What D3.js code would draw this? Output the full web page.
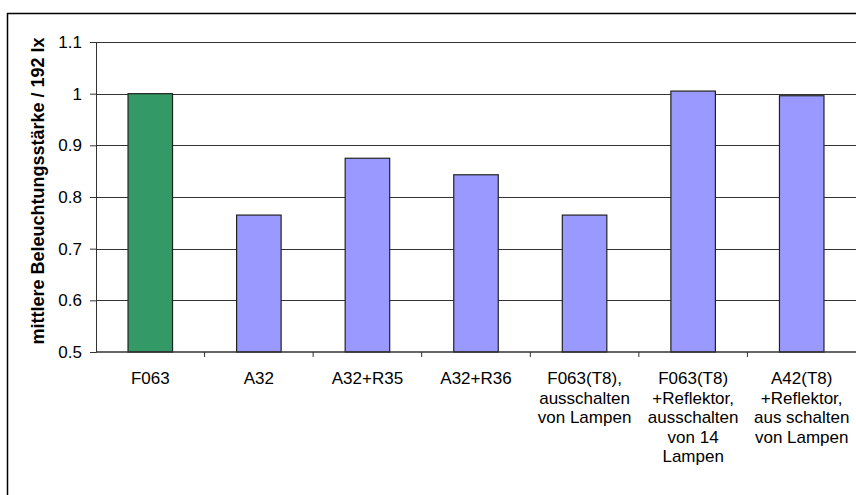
<!DOCTYPE html>
<html>
<head>
<meta charset="utf-8">
<script src="https://cdn.jsdelivr.net/npm/d3@7"></script>
<style>
  html, body { margin: 0; padding: 0; background: #fff; overflow: hidden; }
  svg { display: block; overflow: hidden; font-family: Arial, "Liberation Sans", sans-serif; }
</style>
</head>
<body>
<svg id="chart" width="856" height="495"></svg>
<script>
const categories = [
    ["F063"],
    ["A32"],
    ["A32+R35"],
    ["A32+R36"],
    ["F063(T8),", "ausschalten", "von Lampen"],
    ["F063(T8)", "+Reflektor,", "ausschalten", "von 14", "Lampen"],
    ["A42(T8)", "+Reflektor,", "aus schalten", "von Lampen"]
];
const values = [1.0, 0.765, 0.875, 0.843, 0.765, 1.005, 0.996];
const barColors = ["#339966", "#9999ff", "#9999ff", "#9999ff", "#9999ff", "#9999ff", "#9999ff"];
const yTicks = [0.5, 0.6, 0.7, 0.8, 0.9, 1, 1.1];
const yLabel = "mittlere Beleuchtungsstärke / 192 lx";

function drawChart() {
    const svg = d3.select("#chart");
    svg.selectAll("*").remove();

    const width = +svg.attr("width");
    const height = +svg.attr("height");
    const margin = {left: 96, top: 42, right: 0, bottom: 143};
    const plotW = width - margin.left - margin.right;
    const plotH = height - margin.top - margin.bottom;

    // outer frame, only left and top edges fall inside the picture
    svg.append("path")
        .attr("d", `M7.5,${height} L7.5,13.5 L${width},13.5`)
        .attr("fill", "none")
        .attr("stroke", "#000")
        .attr("stroke-width", 1.5);

    const g = svg.append("g").attr("transform", `translate(${margin.left},${margin.top})`);

    const ids = d3.range(categories.length);
    const x = d3.scaleBand().domain(ids).range([0, plotW]).paddingInner(0.59).paddingOuter(0.295);
    const xOuter = d3.scaleBand().domain(ids).range([0, plotW]);
    const y = d3.scaleLinear().domain([0.5, 1.1]).range([plotH, 0]);

    // gridlines
    g.append("g").selectAll("line").data(yTicks.slice(1)).join("line")
        .attr("x1", 0).attr("x2", plotW)
        .attr("y1", d => Math.round(y(d)) + 0.5).attr("y2", d => Math.round(y(d)) + 0.5)
        .attr("stroke", "#333").attr("stroke-width", 1);

    // bars
    g.append("g").selectAll("rect").data(values).join("rect")
        .attr("x", (d, i) => x(i))
        .attr("width", x.bandwidth())
        .attr("y", d => y(d))
        .attr("height", d => y(0.5) - y(d))
        .attr("fill", (d, i) => barColors[i])
        .attr("stroke", "#222")
        .attr("stroke-width", 1.2);

    // y axis
    const yAxis = g.append("g")
        .call(d3.axisLeft(y).tickValues(yTicks).tickFormat(d3.format("")).tickSize(6).tickSizeOuter(0));
    yAxis.select(".domain").attr("stroke", "#333");
    yAxis.selectAll(".tick line").attr("stroke", "#333");
    yAxis.selectAll(".tick text")
        .attr("x", -14)
        .attr("font-size", 17)
        .attr("font-family", "Arial, 'Liberation Sans', sans-serif")
        .attr("fill", "#000");

    // x axis
    const xAxis = g.append("g").attr("transform", `translate(0,${plotH})`);
    xAxis.append("line")
        .attr("x1", 0).attr("x2", plotW).attr("y1", 0).attr("y2", 0)
        .attr("stroke", "#333").attr("stroke-width", 1.5);
    xAxis.selectAll(".xt").data(ids.slice(1)).join("line")
        .attr("class", "xt")
        .attr("x1", d => xOuter(d)).attr("x2", d => xOuter(d))
        .attr("y1", 0).attr("y2", 5)
        .attr("stroke", "#333");

    const labels = xAxis.selectAll(".xl").data(categories).join("text")
        .attr("class", "xl")
        .attr("text-anchor", "middle")
        .attr("font-size", 17)
        .attr("fill", "#000")
        .attr("y", 32);
    labels.each(function(lines, i) {
        d3.select(this).selectAll("tspan").data(lines).join("tspan")
            .attr("x", xOuter(i) + xOuter.bandwidth() / 2)
            .attr("dy", (d, j) => j === 0 ? 0 : 19.5)
            .text(d => d);
    });

    // y axis title
    svg.append("text")
        .attr("transform", `translate(44,${margin.top + plotH / 2 - 6}) rotate(-90)`)
        .attr("text-anchor", "middle")
        .attr("font-size", 18)
        .attr("font-weight", "bold")
        .text(yLabel);
}

drawChart();
</script>
</body>
</html>
